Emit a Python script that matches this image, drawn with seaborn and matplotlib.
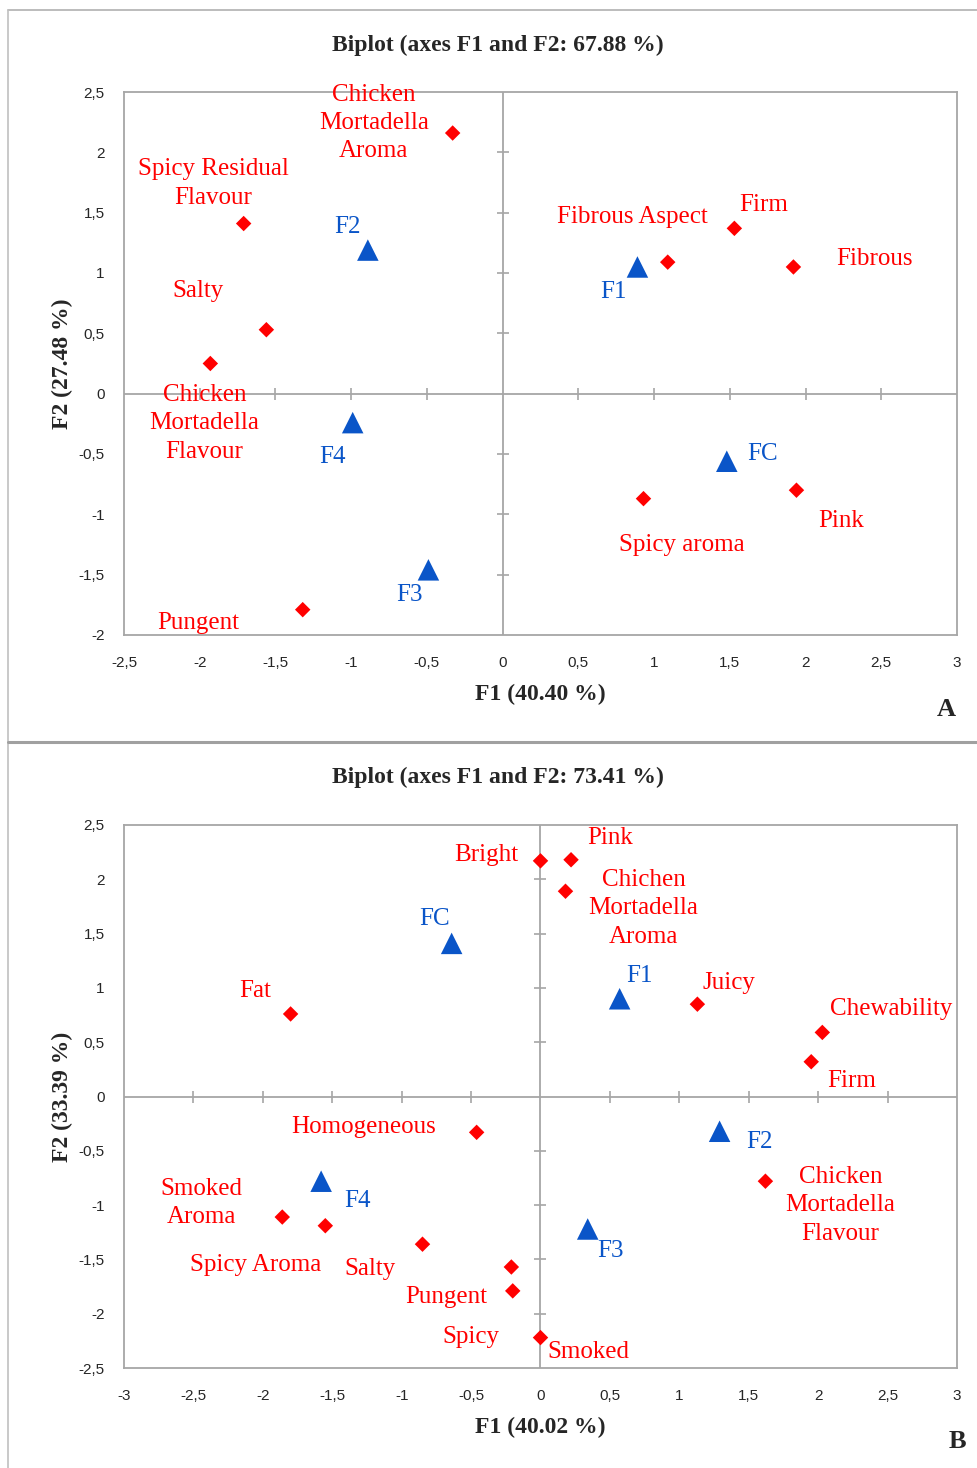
import numpy as np
import pandas as pd
import matplotlib.pyplot as plt
import matplotlib.ticker as mticker
from matplotlib.lines import Line2D
import seaborn as sns

sns.set_style("white")
plt.rcParams["font.family"] = ["Liberation Serif", "DejaVu Serif"]

# ---- Panel A data ----
a_attr_names = ["Chicken\nMortadella\nAroma", "Spicy Residual\nFlavour", "Salty",
                "Chicken\nMortadella\nFlavour", "Pungent", "Fibrous Aspect", "Firm",
                "Fibrous", "Spicy aroma", "Pink"]
a_attr_f1 = [-0.33, -1.71, -1.56, -1.93, -1.32, 1.09, 1.53, 1.92, 0.93, 1.94]
a_attr_f2 = [2.16, 1.41, 0.53, 0.25, -1.79, 1.09, 1.37, 1.05, -0.87, -0.80]
a_samp_names = ["F2", "F1", "F4", "FC", "F3"]
a_samp_f1 = [-0.89, 0.89, -0.99, 1.48, -0.49]
a_samp_f2 = [1.19, 1.05, -0.24, -0.56, -1.46]

# ---- Panel B data ----
b_attr_names = ["Bright", "Pink", "Chichen\nMortadella\nAroma", "Fat", "Juicy",
                "Chewability", "Firm", "Homogeneous", "Smoked\nAroma", "Spicy Aroma",
                "Salty", "Pungent", "Spicy", "Smoked", "Chicken\nMortadella\nFlavour"]
b_attr_f1 = [0.0, 0.22, 0.18, -1.80, 1.13, 2.03, 1.95, -0.46, -1.86, -1.55,
             -0.85, -0.21, -0.20, 0.0, 1.62]
b_attr_f2 = [2.17, 2.18, 1.89, 0.76, 0.85, 0.59, 0.32, -0.33, -1.11, -1.19,
             -1.36, -1.57, -1.79, -2.22, -0.78]
b_samp_names = ["FC", "F1", "F2", "F4", "F3"]
b_samp_f1 = [-0.64, 0.57, 1.29, -1.58, 0.34]
b_samp_f2 = [1.41, 0.90, -0.32, -0.78, -1.22]

# label offsets (pixels) relative to each point
a_attr_off = [(-79, -10), (-30, -40), (-68, -39), (-6, 60), (-104, 13), (-35, -45),
              (29, -23), (81, -8), (38, 46), (45, 31)]
a_samp_off = [(-20, -23), (-24, 25), (-20, 34), (36, -7), (-19, 25)]
b_attr_off = [(-54, -6), (39, -22), (78, 17), (-35, -23), (32, -21), (69, -23),
              (40, 19), (-113, -5), (-81, -14), (-70, 39), (-52, 25), (-65, 30),
              (-42, 46), (48, 14), (75, 24)]
b_samp_off = [(-17, -24), (20, -23), (40, 11), (36, 20), (23, 22)]

RED = "#ff0000"
BLUE = "#0a55c8"
GRID = "#a6a6a6"


def fmt(v, pos):
    return f"{v:g}".replace(".", ",")


def biplot(ax, attr, samp, attr_off, samp_off, xlim, ylim, title_y, title, xlab, ylab):
    df_a = pd.DataFrame({"F1": attr[1], "F2": attr[2]})
    df_s = pd.DataFrame({"F1": samp[1], "F2": samp[2]})
    ax.set_xlim(*xlim)
    ax.set_ylim(*ylim)
    xt = np.arange(xlim[0], xlim[1] + 0.01, 0.5)
    yt = np.arange(ylim[0], ylim[1] + 0.01, 0.5)
    ax.set_xticks(xt)
    ax.set_yticks(yt)
    ax.xaxis.set_major_formatter(mticker.FuncFormatter(fmt))
    ax.yaxis.set_major_formatter(mticker.FuncFormatter(fmt))
    ax.tick_params(length=0, labelsize=11, pad=14)
    for lab in ax.get_xticklabels() + ax.get_yticklabels():
        lab.set_family("Liberation Sans")
    ax.tick_params(axis="x", pad=15)
    for sp in ax.spines.values():
        sp.set_color(GRID)
        sp.set_linewidth(1.3)
    ax.axhline(0, color=GRID, lw=1.3, zorder=1)
    ax.axvline(0, color=GRID, lw=1.3, zorder=1)
    inner_x = [v for v in xt if v != 0 and xlim[0] < v < xlim[1]]
    inner_y = [v for v in yt if v != 0 and ylim[0] < v < ylim[1]]
    ax.plot(inner_x, [0] * len(inner_x), ls="none", marker="|", ms=8, mew=1.2, color=GRID)
    ax.plot([0] * len(inner_y), inner_y, ls="none", marker="_", ms=8, mew=1.2, color=GRID)

    sns.scatterplot(data=df_a, x="F1", y="F2", marker="D", s=62, color=RED,
                    edgecolor="none", ax=ax, zorder=3)
    sns.scatterplot(data=df_s, x="F1", y="F2", marker="^", s=240, color=BLUE,
                    edgecolor="none", ax=ax, zorder=3)
    for name, x, y, (dx, dy) in zip(attr[0], attr[1], attr[2], attr_off):
        ax.annotate(name, (x, y), xytext=(dx, -dy), textcoords="offset pixels",
                    ha="center", va="center", color=RED, fontsize=18, linespacing=1.38)
    for name, x, y, (dx, dy) in zip(samp[0], samp[1], samp[2], samp_off):
        ax.annotate(name, (x, y), xytext=(dx, -dy), textcoords="offset pixels",
                    ha="center", va="center", color=BLUE, fontsize=18)
    ax.set_xlabel(xlab, fontsize=17, fontweight="bold", labelpad=10)
    ax.set_ylabel(ylab, fontsize=17, fontweight="bold", labelpad=4)
    fig.text(498 / 978, title_y, title, ha="center", va="center",
             fontsize=17, fontweight="bold")


fig = plt.figure(figsize=(9.78, 14.68), dpi=100)
axA = fig.add_axes([124 / 978, 1 - 635 / 1468, 833 / 978, 543 / 1468])
axB = fig.add_axes([124 / 978, 1 - 1368 / 1468, 833 / 978, 543 / 1468])

biplot(axA, (a_attr_names, a_attr_f1, a_attr_f2), (a_samp_names, a_samp_f1, a_samp_f2),
       a_attr_off, a_samp_off, (-2.5, 3), (-2, 2.5), 1 - 45 / 1468,
       "Biplot (axes F1 and F2: 67.88 %)", "F1 (40.40 %)", "F2 (27.48 %)")
biplot(axB, (b_attr_names, b_attr_f1, b_attr_f2), (b_samp_names, b_samp_f1, b_samp_f2),
       b_attr_off, b_samp_off, (-3, 3), (-2.5, 2.5), 1 - 777 / 1468,
       "Biplot (axes F1 and F2: 73.41 %)", "F1 (40.02 %)", "F2 (33.39 %)")

fig.text(946 / 978, 1 - 710 / 1468, "A", ha="center", va="center", fontsize=19, fontweight="bold")
fig.text(957 / 978, 1 - 1441 / 1468, "B", ha="center", va="center", fontsize=19, fontweight="bold")

# panel frames
fig.add_artist(Line2D([8 / 978, 1], [1 - 10 / 1468] * 2, color="#b0b0b0", lw=1.2))
fig.add_artist(Line2D([8 / 978] * 2, [0, 1 - 10 / 1468], color="#c0c0c0", lw=1.2))
fig.add_artist(Line2D([8 / 978, 1], [1 - 742 / 1468] * 2, color="#a0a0a0", lw=2.2))

fig.savefig("out.png", dpi=100)
